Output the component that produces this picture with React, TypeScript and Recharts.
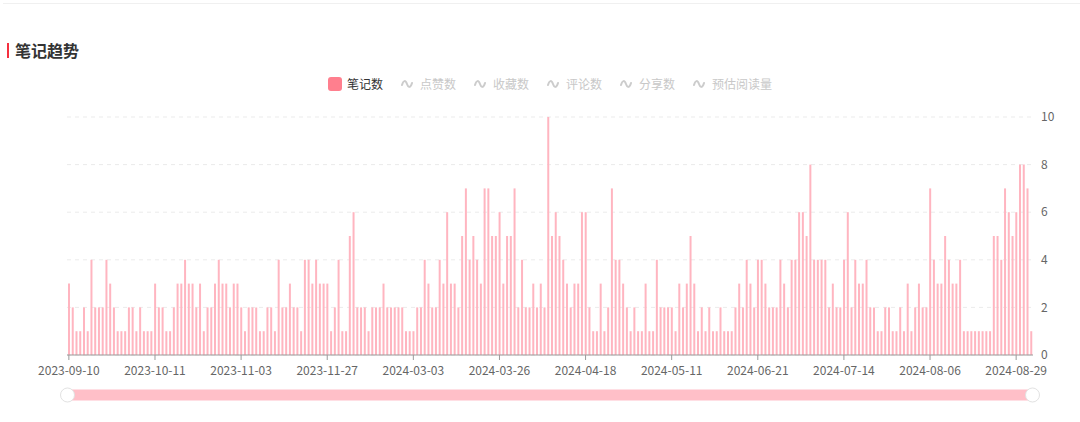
import React from 'react';
import { BarChart, Bar, XAxis, YAxis, CartesianGrid, Brush } from 'recharts';

const tickLabels = [
  '2023-09-10', '2023-10-11', '2023-11-03', '2023-11-27', '2024-03-03', '2024-03-26',
  '2024-04-18', '2024-05-11', '2024-06-21', '2024-07-14', '2024-08-06', '2024-08-29',
];

const noteCounts = [
  3, 2, 1, 1, 2, 1, 4, 2, 2, 2, 4, 3, 2, 1, 1, 1, 2, 2, 1, 2, 1, 1, 1,
  3, 2, 2, 1, 1, 2, 3, 3, 4, 3, 3, 2, 3, 1, 2, 2, 3, 4, 3, 3, 2, 3, 3,
  2, 1, 2, 2, 2, 1, 1, 2, 2, 1, 4, 2, 2, 3, 2, 2, 1, 4, 4, 3, 4, 3, 3,
  3, 1, 2, 4, 1, 1, 5, 6, 2, 2, 2, 1, 2, 2, 2, 3, 2, 2, 2, 2, 2, 1, 1,
  1, 2, 2, 4, 3, 2, 2, 4, 3, 6, 3, 3, 2, 5, 7, 4, 5, 4, 3, 7, 7, 5, 5,
  6, 3, 5, 5, 7, 2, 4, 2, 2, 3, 2, 3, 2, 10, 5, 6, 5, 4, 3, 2, 3, 3, 6,
  6, 2, 1, 1, 3, 1, 2, 7, 4, 4, 3, 2, 1, 2, 1, 1, 3, 1, 1, 4, 2, 2, 2,
  2, 1, 3, 2, 3, 5, 3, 1, 2, 1, 2, 1, 1, 2, 1, 1, 1, 2, 3, 2, 4, 3, 2,
  4, 4, 3, 2, 2, 2, 4, 3, 2, 4, 4, 6, 6, 5, 8, 4, 4, 4, 4, 2, 3, 2, 2,
  4, 6, 2, 4, 3, 3, 4, 2, 2, 1, 1, 2, 2, 1, 1, 2, 1, 3, 1, 2, 3, 2, 2,
  7, 4, 3, 3, 5, 4, 3, 3, 4, 1, 1, 1, 1, 1, 1, 1, 1, 5, 5, 4, 7, 6, 5,
  6, 8, 8, 7, 1,
];

const activeSeries = '笔记数';
const inactiveSeries = ['点赞数', '收藏数', '评论数', '分享数', '预估阅读量'];
const yTicks = [0, 2, 4, 6, 8, 10];
const TICK_STEP = 23;

const data = noteCounts.map((v, i) => ({ idx: i, count: v }));

const FONT = "'Noto Sans CJK SC', 'Noto Sans', sans-serif";

const Traveller = (props: any) => {
  const { x, y, width, height } = props;
  return (
    <circle
      cx={x + width / 2}
      cy={y + height / 2}
      r={7}
      fill="#ffffff"
      stroke="#e2e2e2"
      strokeWidth={1}
    />
  );
};

const Wave = () => (
  <svg width={14} height={10} style={{ display: 'block' }}>
    <path d="M1 6 C2.5 1, 4.5 1, 6 5 S 9.5 9, 11 4" stroke="#cccccc" strokeWidth={2} fill="none" strokeLinecap="round" />
  </svg>
);

export default function App() {
  return (
    <div
      style={{
        position: 'absolute',
        left: 0,
        top: 0,
        width: 1080,
        height: 422,
        background: '#ffffff',
        fontFamily: FONT,
        overflow: 'hidden',
      }}
    >
      <div style={{ position: 'absolute', left: 3, right: 0, top: 3, height: 1, background: '#f0f0f0' }} />
      <div style={{ position: 'absolute', left: 7, top: 43, width: 2, height: 15, background: '#f5303f' }} />
      <div
        style={{
          position: 'absolute',
          left: 15,
          top: 39,
          fontSize: 16,
          fontWeight: 700,
          color: '#333333',
          lineHeight: '22px',
        }}
      >
        笔记趋势
      </div>

      <div
        style={{
          position: 'absolute',
          left: 67,
          width: 966,
          top: 76,
          height: 16,
          display: 'flex',
          justifyContent: 'center',
          alignItems: 'center',
          gap: 18,
          fontSize: 12,
        }}
      >
        <div style={{ display: 'flex', alignItems: 'center', gap: 5 }}>
          <div style={{ width: 14, height: 14, borderRadius: 3, background: '#ff7f8e' }} />
          <span style={{ color: '#333333', lineHeight: '16px' }}>{activeSeries}</span>
        </div>
        {inactiveSeries.map((name) => (
          <div key={name} style={{ display: 'flex', alignItems: 'center', gap: 5 }}>
            <Wave />
            <span style={{ color: '#c8c8c8', lineHeight: '16px' }}>{name}</span>
          </div>
        ))}
      </div>

      <div style={{ position: 'absolute', left: 0, top: 0 }}>
        <BarChart
          width={1080}
          height={422}
          data={data}
          margin={{ top: 117, right: 0, bottom: 27, left: 67 }}
          barCategoryGap={0}
        >
          <CartesianGrid vertical={false} strokeDasharray="4 4" stroke="#ebebeb" />
          <XAxis
            dataKey="idx"
            type="category"
            interval={TICK_STEP - 1}
            height={30}
            tickFormatter={(v: number) => tickLabels[Math.round(v / TICK_STEP)] ?? ''}
            tick={{ fill: '#666666', fontSize: 12, fontFamily: FONT }}
            tickSize={5}
            tickMargin={6}
            axisLine={{ stroke: '#9a9a9a' }}
            tickLine={{ stroke: '#9a9a9a' }}
          />
          <YAxis
            orientation="right"
            domain={[0, 10]}
            ticks={yTicks}
            width={47}
            axisLine={false}
            tickLine={false}
            tickSize={0}
            tickMargin={8}
            tick={{ fill: '#666666', fontSize: 12, fontFamily: FONT }}
          />
          <Bar dataKey="count" fill="#ffb5c0" barSize={2} isAnimationActive={false} />
          <Brush
            dataKey="idx"
            x={67}
            y={390}
            width={966}
            height={10}
            fill="#ffc0c9"
            stroke="#ffc0c9"
            travellerWidth={1}
            traveller={Traveller}
          />
        </BarChart>
      </div>
    </div>
  );
}
